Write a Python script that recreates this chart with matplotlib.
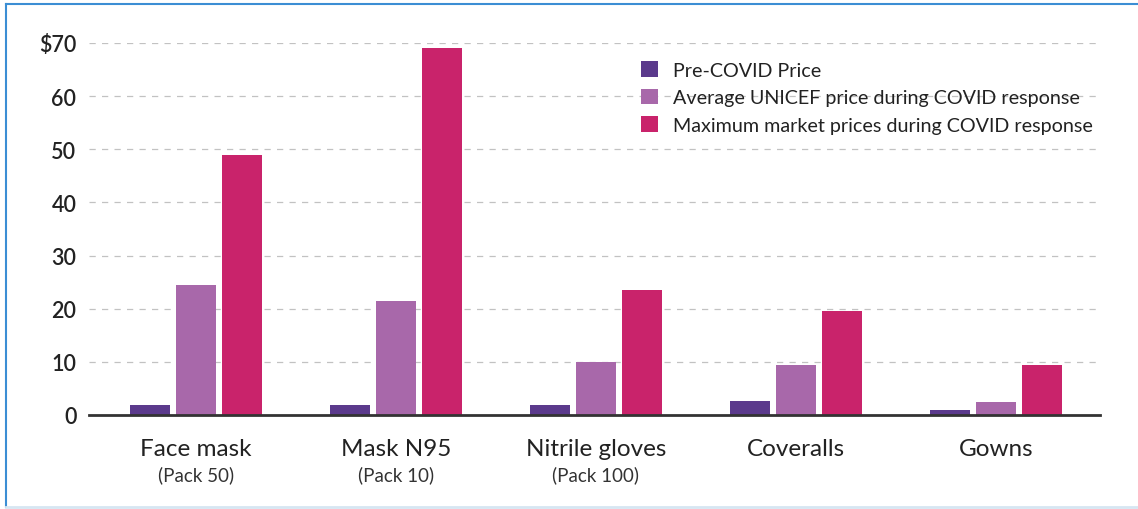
import numpy as np
import matplotlib
matplotlib.use("Agg")
import matplotlib.pyplot as plt
from matplotlib.lines import Line2D

plt.rcParams['font.family'] = ['Lato', 'DejaVu Sans']

# data (US$)
categories = ["Face mask", "Mask N95", "Nitrile gloves", "Coveralls", "Gowns"]
packs = ["(Pack 50)", "(Pack 10)", "(Pack 100)", "", ""]
series_names = ["Pre-COVID Price",
                "Average UNICEF price during COVID response",
                "Maximum market prices during COVID response"]
pre_covid = [1.9, 1.9, 1.9, 2.6, 0.95]
unicef_avg = [24.5, 21.5, 10.0, 9.5, 2.5]
market_max = [49.0, 69.0, 23.6, 19.5, 9.5]
colors = ["#5B3A8C", "#A868AA", "#C9236B"]
y_ticks = [0, 10, 20, 30, 40, 50, 60, 70]
y_labels = ["0", "10", "20", "30", "40", "50", "60", "$70"]

W, H = 1138, 510
fig = plt.figure(figsize=(W / 100, H / 100), dpi=100)
ax = fig.add_axes([89 / W, 1 - 416 / H, (1100 - 89) / W, (416 - 44) / H])

x = np.arange(len(categories))
width = 0.2
step = 0.23
for i, (vals, name) in enumerate(zip([pre_covid, unicef_avg, market_max], series_names)):
    ax.bar(x + (i - 1) * step, vals, width, color=colors[i], label=name, zorder=3)

ax.set_xlim(-0.535, 4.52)
ax.set_ylim(0, 70)
ax.set_yticks(y_ticks)
ax.set_yticklabels(y_labels, fontsize=15.5, fontweight='semibold', color='#222222')
ax.tick_params(axis='y', length=0, pad=9)
ax.set_xticks([])

for t in y_ticks[1:]:
    ax.axhline(t, color='#C2C2C2', lw=0.9, ls=(0, (5, 5)), zorder=1)

for s in ['top', 'right', 'left']:
    ax.spines[s].set_visible(False)
ax.spines['bottom'].set_color('#333333')
ax.spines['bottom'].set_linewidth(2)
ax.spines['bottom'].set_zorder(4)

for xi, cat, pk in zip(x, categories, packs):
    ax.annotate(cat, xy=(xi, 0), xycoords=('data', 'axes fraction'),
                xytext=(0, -24), textcoords='offset points',
                ha='center', va='center', fontsize=17.5, color='#222222')
    if pk:
        ax.annotate(pk, xy=(xi, 0), xycoords=('data', 'axes fraction'),
                    xytext=(0, -42.5), textcoords='offset points',
                    ha='center', va='center', fontsize=13.5, color='#333333')

ax.legend(loc='upper left', bbox_to_anchor=(641 / W, 1 - 62 / H),
          bbox_transform=fig.transFigure, frameon=False, fontsize=14.2,
          handlelength=0.85, handleheight=0.85, handletextpad=0.75,
          labelspacing=0.5, borderpad=0, borderaxespad=0,
          labelcolor='#222222')

# frame around the figure
fig.add_artist(Line2D([6 / W, 6 / W], [1 - 5 / H, 1 - 508 / H], transform=fig.transFigure,
                      color='#3B8ED4', lw=1.5))
fig.add_artist(Line2D([6 / W, 1.0], [1 - 5 / H, 1 - 5 / H], transform=fig.transFigure,
                      color='#3B8ED4', lw=1.5))
fig.add_artist(Line2D([6 / W, 1.0], [1 - 508 / H, 1 - 508 / H], transform=fig.transFigure,
                      color='#D6E6F2', lw=2))

fig.savefig("out.png", dpi=100)
